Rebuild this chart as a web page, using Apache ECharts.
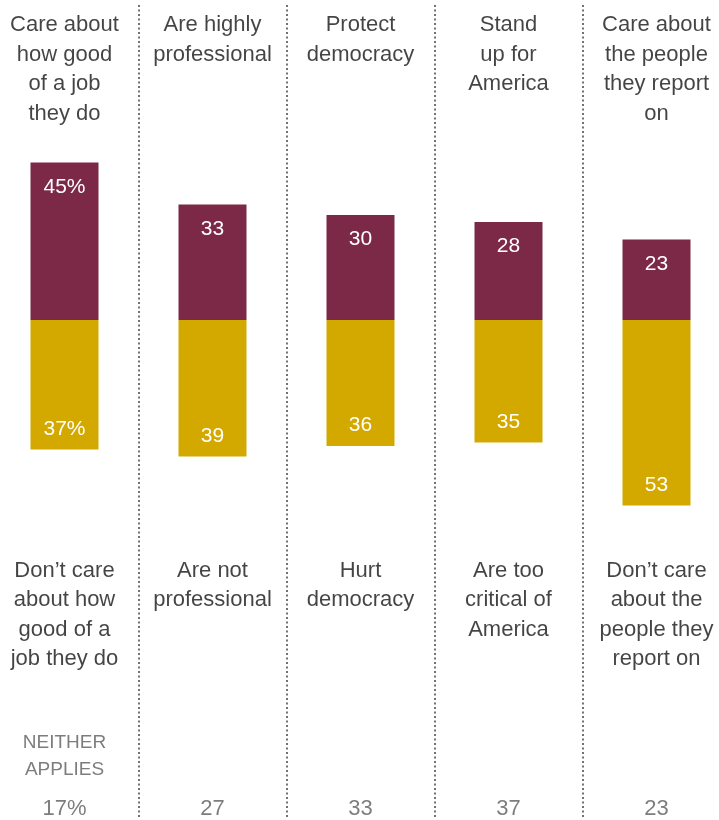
<!DOCTYPE html>
<html>
<head>
<meta charset="utf-8">
<script src="https://cdn.jsdelivr.net/npm/echarts@6/dist/echarts.min.js"></script>
<style>
html,body{margin:0;padding:0;background:#fff;}
#chart{width:719px;height:820px;}
</style>
</head>
<body>
<div id="chart"></div>
<script>
// ---- data ----
const categories = ['Care about how good of a job they do','Are highly professional','Protect democracy','Stand up for America','Care about the people they report on'];
const positiveLabels = ['Care about\nhow good\nof a job\nthey do','Are highly\nprofessional','Protect\ndemocracy','Stand\nup for\nAmerica','Care about\nthe people\nthey report\non'];
const negativeLabels = ["Don\u2019t care\nabout how\ngood of a\njob they do",'Are not\nprofessional','Hurt\ndemocracy','Are too\ncritical of\nAmerica',"Don\u2019t care\nabout the\npeople they\nreport on"];
const positiveValues = [45, 33, 30, 28, 23];
const negativeValues = [37, 39, 36, 35, 53];
const neitherValues = [17, 27, 33, 37, 23];
const neitherTitle = 'NEITHER\nAPPLIES';

// ---- chart ----
const FONT = '"Liberation Sans", Arial, sans-serif';
const MAROON = '#7B2947';
const GOLD = '#D3A900';
const chart = echarts.init(document.getElementById('chart'), null, {renderer: 'canvas'});

function anchorSeries(yValue, labels, labelOpt) {
  return {
    type: 'scatter',
    symbolSize: 1,
    itemStyle: {color: 'rgba(0,0,0,0)'},
    silent: true,
    z: 5,
    data: labels.map((t, i) => ({value: [i, yValue], name: t})),
    label: Object.assign({
      show: true,
      formatter: p => p.name,
      fontFamily: FONT
    }, labelOpt)
  };
}

const separators = categories.slice(1).map((c, i) => ({xAxis: i + 0.5}));

const option = {
  animation: false,
  backgroundColor: '#ffffff',
  grid: {left: 0, right: 0, top: 5, bottom: 3},
  xAxis: {
    type: 'value',
    min: -0.4358,
    max: 4.4223,
    show: false,
    splitLine: {show: false}
  },
  yAxis: {
    type: 'value',
    min: -142,
    max: 90,
    show: false,
    splitLine: {show: false}
  },
  series: [
    {
      type: 'bar',
      stack: 'total',
      barWidth: 68,
      itemStyle: {color: MAROON},
      data: positiveValues.map((v, i) => [i, v]),
      label: {
        show: true,
        position: 'insideTop',
        distance: 14,
        color: '#ffffff',
        fontSize: 21,
        fontFamily: FONT,
        formatter: p => p.dataIndex === 0 ? p.value[1] + '%' : String(p.value[1])
      },
      markLine: {
        silent: true,
        symbol: 'none',
        label: {show: false},
        lineStyle: {color: '#444444', width: 1.5, type: [2, 2.5]},
        data: separators
      }
    },
    {
      type: 'bar',
      stack: 'total',
      barWidth: 68,
      itemStyle: {color: GOLD},
      data: negativeValues.map((v, i) => [i, -v]),
      label: {
        show: true,
        position: 'insideBottom',
        distance: 10,
        color: '#ffffff',
        fontSize: 21,
        fontFamily: FONT,
        formatter: p => (p.dataIndex === 0 ? (-p.value[1]) + '%' : String(-p.value[1]))
      }
    },
    anchorSeries(88.6, positiveLabels, {position: 'bottom', distance: 0, fontSize: 22, lineHeight: 29.5, color: '#151515', align: 'center'}),
    anchorSeries(-67.2, negativeLabels, {position: 'bottom', distance: 0, fontSize: 22, lineHeight: 29.5, color: '#151515', align: 'center'}),
    anchorSeries(-117.0, [neitherTitle], {position: 'bottom', distance: 0, fontSize: 19, lineHeight: 26.5, color: '#5c5c5c', align: 'center'}),
    anchorSeries(-139.8, neitherValues.map((v, i) => i === 0 ? v + '%' : String(v)), {position: 'inside', fontSize: 22, color: '#5c5c5c'})
  ]
};
chart.setOption(option);
</script>
</body>
</html>
